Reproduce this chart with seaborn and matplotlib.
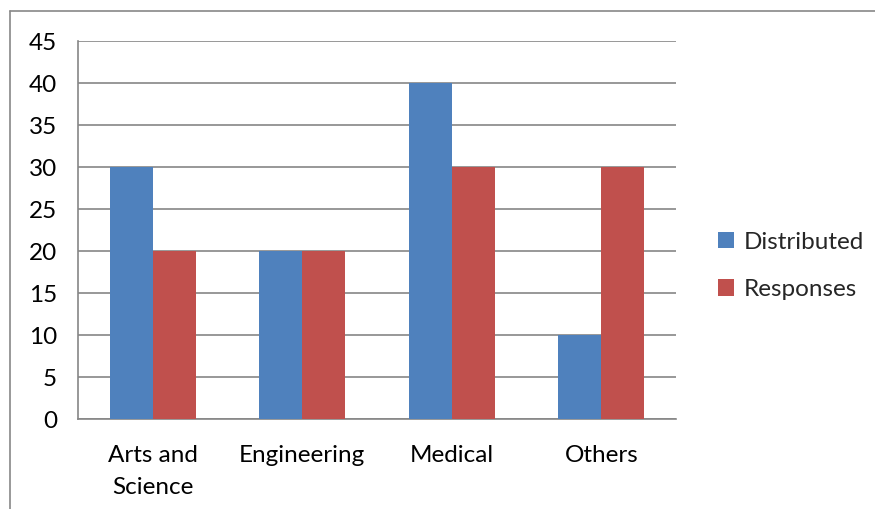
import matplotlib.pyplot as plt
import pandas as pd
import seaborn as sns
from matplotlib.lines import Line2D
from matplotlib.patches import Patch

# Data
categories = ["Arts and\nScience", "Engineering", "Medical", "Others"]
distributed = [30, 20, 40, 10]
responses = [20, 20, 30, 30]
series_names = ["Distributed", "Responses"]
y_ticks = list(range(0, 50, 5))

colors = ["#4F81BD", "#C0504D"]
grid_color = "#868686"
font = ["Lato", "DejaVu Sans"]
fsize = 17.5

df = pd.DataFrame({
    "category": categories * 2,
    "series": [series_names[0]] * 4 + [series_names[1]] * 4,
    "value": distributed + responses,
})

sns.set_style("white")
plt.rcParams["font.family"] = font

fig = plt.figure(figsize=(8.75, 5.09), dpi=100)
ax = fig.add_axes([78 / 875, 1 - 419 / 509, (676 - 78) / 875, (419 - 41) / 509])

sns.barplot(
    data=df, x="category", y="value", hue="series",
    palette=colors, width=0.575, gap=0, saturation=1,
    edgecolor="none", linewidth=0, ax=ax, legend=False, zorder=3,
)

ax.set_ylim(0, 45)
ax.set_xlim(-0.5, 3.5)
ax.set_yticks(y_ticks)
ax.set_yticklabels([str(v) for v in y_ticks], fontsize=fsize, color="black")
ax.yaxis.grid(True, color=grid_color, linewidth=1.2, zorder=0)
ax.set_axisbelow(True)

# Category labels on centres, tick marks on category boundaries
ax.set_xticks(range(len(categories)))
ax.set_xticklabels(categories, fontsize=fsize, color="black", linespacing=1.6)
ax.tick_params(axis="x", which="major", length=0, pad=19)
ax.set_xticks([-0.5, 0.5, 1.5, 2.5, 3.5], minor=True)
ax.tick_params(axis="x", which="minor", length=8, width=1.2, color=grid_color, direction="out")
ax.tick_params(axis="y", length=8, width=1.2, color=grid_color, direction="out", pad=7)

for side in ["top", "right"]:
    ax.spines[side].set_visible(False)
for side in ["left", "bottom"]:
    ax.spines[side].set_color(grid_color)
    ax.spines[side].set_linewidth(1.2)

ax.set_xlabel("")
ax.set_ylabel("")

handles = [Patch(facecolor=c, edgecolor="none") for c in colors]
fig.legend(
    handles, series_names, loc="center left",
    bbox_to_anchor=(718 / 875, 1 - 266 / 509),
    frameon=False, fontsize=fsize, borderpad=0, borderaxespad=0,
    handlelength=0.65, handleheight=0.65, handletextpad=0.4, labelspacing=1.08,
)

# Outer chart border (only left and top edges visible in the crop)
border_kw = dict(color="#888888", linewidth=1.2, transform=fig.transFigure)
fig.add_artist(Line2D([10 / 875, 10 / 875], [0, 1 - 11 / 509], **border_kw))
fig.add_artist(Line2D([10 / 875, 1], [1 - 11 / 509, 1 - 11 / 509], **border_kw))

fig.savefig("out.png", dpi=100)
plt.close(fig)
